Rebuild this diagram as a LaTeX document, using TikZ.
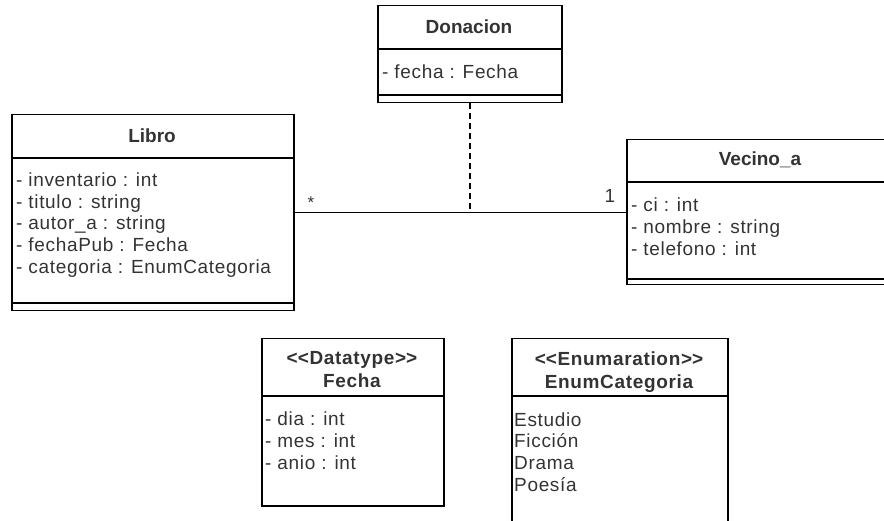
\documentclass[tikz,border=0pt]{standalone}
\usepackage{fontspec}
\setmainfont{Liberation Sans}
\newfontfamily\umlfont{Liberation Sans}[LetterSpace=3.5]
\usetikzlibrary{positioning}
\definecolor{umltext}{HTML}{333333}
\newcommand{\stereo}[1]{<\kern0pt<#1>\kern0pt>}
\tikzset{
  classbox/.style={draw, line width=1.5pt, anchor=north west, inner sep=0pt},
  classtitle/.style={font=\fontsize{19}{23}\selectfont\bfseries, text=umltext, align=center, inner sep=0pt},
  stereotitle/.style={classtitle, font=\umlfont\fontsize{19}{23}\selectfont\bfseries},
  attrs/.style={font=\umlfont\fontsize{19}{21.8}\selectfont, text=umltext, align=left, anchor=west, inner sep=0pt},
  sepline/.style={line width=1.5pt},
  assoc/.style={line width=1.5pt},
  linkline/.style={line width=1.5pt, dash pattern=on 6pt off 4pt},
  mult/.style={font=\umlfont\fontsize{17}{20}\selectfont, text=umltext, inner sep=0pt},
}
\begin{document}
\begin{tikzpicture}[x=1pt,y=-1pt]
\useasboundingbox (0,0) rectangle (884,521);

% Donacion
\node[classbox, minimum width=184pt, minimum height=97pt] (donacion) at (377,5) {};
\node[classtitle] (donacionT) at (469,27) {Donacion};
\draw[sepline] (377,49) -- (561,49);
\draw[sepline] (377,95) -- (561,95);
\node[attrs] (donacionA) at (382,72) {- fecha : Fecha};

% Libro
\node[classbox, minimum width=282pt, minimum height=196pt] (libro) at (11,114) {};
\node[classtitle] (libroT) at (152,136) {Libro};
\draw[sepline] (11,158) -- (293,158);
\draw[sepline] (11,303) -- (293,303);
\node[attrs] (libroA) at (16,225) {- inventario : int\\- titulo : string\\- autor\_a : string\\- fechaPub : Fecha\\- categoria : EnumCategoria};

% Vecino_a
\node[classbox, minimum width=268pt, minimum height=145pt] (vecino) at (626,139) {};
\node[classtitle] (vecinoT) at (760,160) {Vecino\_a};
\draw[sepline] (626,182) -- (894,182);
\draw[sepline] (626,279) -- (894,279);
\node[attrs] (vecinoA) at (631,227) {- ci : int\\- nombre : string\\- telefono : int};

% Fecha
\node[classbox, minimum width=182pt, minimum height=167pt] (fecha) at (261,338) {};
\node[stereotitle] (fechaT) at (352,370) {\stereo{Datatype}\\Fecha};
\draw[sepline] (261,396) -- (443,396);
\node[attrs] (fechaA) at (265,441) {- dia : int\\- mes : int\\- anio : int};

% EnumCategoria
\node[classbox, minimum width=216pt, minimum height=202pt] (enumcat) at (511,338) {};
\node[stereotitle] (enumcatT) at (619,372) {\stereo{Enumaration}\\EnumCategoria};
\draw[sepline] (511,396) -- (727,396);
\node[attrs] (enumcatA) at (514,452) {Estudio\\Ficción\\Drama\\Poesía};

% association
\draw[assoc] (libro.east) -- (libro.east -| vecino.west);
\coordinate (assocmid) at (donacion.south |- libro.east);
\draw[linkline] (donacion.south) -- (assocmid);
\node[mult] (manyEnd) at (311,203) {*};
\node[mult, font=\umlfont\fontsize{19}{22}\selectfont] (oneEnd) at (610,196) {1};
\end{tikzpicture}
\end{document}
